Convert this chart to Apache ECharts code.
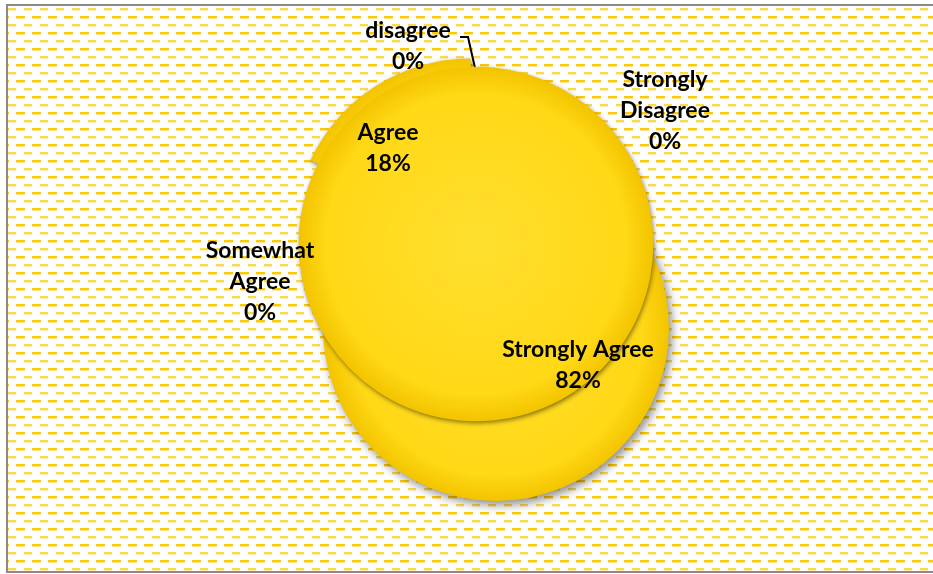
<!DOCTYPE html>
<html>
<head>
<meta charset="utf-8">
<title>Survey pie</title>
<script src="https://cdn.jsdelivr.net/npm/echarts@6/dist/echarts.min.js"></script>
<style>
    body { margin: 0; padding: 0; background: #fff; }
    #chart { width: 933px; height: 574px; }
</style>
</head>
<body>
<div id="chart"></div>
<script>
    // data
    var categories = ['Strongly Agree', 'Agree', 'Somewhat Agree', 'disagree', 'Strongly Disagree'];
    var values = [82, 18, 0, 0, 0];
    var labelNames = ['Strongly Agree', 'Agree', 'Somewhat\nAgree', 'disagree', 'Strongly\nDisagree'];

    // where each label sits (page px)
    var labelPos = [[578, 365], [388, 148], [260, 282], [408, 46], [665, 111]];
    var leaderPts = [[460, 37], [468, 37], [475, 68]];

    var frontCenter = [476, 244], frontR = 177;
    var backCenter = [496, 328], backR = 173;

    // dashed yellow backdrop tile
    var tile = document.createElement('canvas');
    tile.width = 16; tile.height = 16;
    var g = tile.getContext('2d');
    g.fillStyle = '#ffc800'; g.fillRect(0, 0, 9, 2);
    g.fillStyle = '#ffe79a'; g.fillRect(0, 2, 9, 1);
    g.fillStyle = '#ffd84a'; g.fillRect(8, 8, 8, 2);
    g.fillStyle = '#fff0c0'; g.fillRect(8, 10, 8, 1);

    function disk(c, r) {
        return {
            type: 'radial', x: c[0], y: c[1], r: r, global: true,
            colorStops: [
                {offset: 0, color: '#ffe030'},
                {offset: 0.85, color: '#ffd816'},
                {offset: 1, color: '#f3c400'}
            ]
        };
    }

    function buildData(explode) {
        var out = [];
        for (var i = 0; i < categories.length; i++) {
            var item = {name: categories[i], value: values[i]};
            if (explode) item.selected = (categories[i] === 'Agree');
            if (!explode && categories[i] === 'disagree') item.labelLine = {show: true};
            out.push(item);
        }
        return out;
    }

    var chart = echarts.init(document.getElementById('chart'));
    var option = {
        backgroundColor: '#fff',
        animation: false,
        graphic: [
            {type: 'rect', z: -10, shape: {x: 8, y: 6, width: 925, height: 565}, style: {fill: {image: tile, repeat: 'repeat'}}},
            {type: 'rect', z: -9, shape: {x: 6, y: 4, width: 2, height: 569}, style: {fill: '#8a8a8a'}},
            {type: 'rect', z: -9, shape: {x: 6, y: 4, width: 927, height: 2}, style: {fill: '#8a8a8a'}},
            {type: 'rect', z: -9, shape: {x: 6, y: 571, width: 927, height: 2}, style: {fill: '#8a8a8a'}}
        ],
        series: [
            {
                // depth layer
                type: 'pie', silent: true, z: 1,
                center: backCenter, radius: backR,
                startAngle: 90, clockwise: true,
                label: {show: false}, labelLine: {show: false},
                itemStyle: {
                    color: disk(backCenter, backR), borderWidth: 0,
                    shadowBlur: 10, shadowOffsetX: 3, shadowOffsetY: 4, shadowColor: 'rgba(0,0,0,0.45)'
                },
                data: buildData(false).map(function (d) { return {name: d.name, value: d.value}; })
            },
            {
                // shadowed copy with Agree pulled out; only its rim shows
                type: 'pie', silent: true, z: 2,
                center: frontCenter, radius: frontR,
                startAngle: 90, clockwise: true,
                selectedMode: 'multiple', selectedOffset: 10,
                label: {show: false}, labelLine: {show: false},
                itemStyle: {
                    color: disk(frontCenter, frontR), borderWidth: 0,
                    shadowBlur: 5, shadowOffsetX: 1, shadowOffsetY: 2, shadowColor: 'rgba(40,30,0,0.6)'
                },
                data: buildData(true)
            },
            {
                type: 'pie', z: 3,
                center: frontCenter, radius: frontR,
                startAngle: 90, clockwise: true,
                avoidLabelOverlap: false,
                percentPrecision: 0,
                itemStyle: {color: disk(frontCenter, frontR), borderWidth: 0.6, borderColor: disk(frontCenter, frontR)},
                label: {
                    show: true,
                    color: '#000',
                    fontFamily: 'Lato',
                    fontWeight: 'bold',
                    fontSize: 23,
                    lineHeight: 31,
                    align: 'center',
                    formatter: function (p) {
                        return labelNames[p.dataIndex] + '\n' + p.percent + '%';
                    }
                },
                labelLine: {show: false, lineStyle: {color: '#000', width: 2}},
                labelLayout: function (p) {
                    var pos = labelPos[p.dataIndex];
                    var res = {x: pos[0], y: pos[1], align: 'center', verticalAlign: 'middle'};
                    if (categories[p.dataIndex] === 'disagree') res.labelLinePoints = leaderPts;
                    return res;
                },
                data: buildData(false)
            }
        ]
    };
    chart.setOption(option);
</script>
</body>
</html>
